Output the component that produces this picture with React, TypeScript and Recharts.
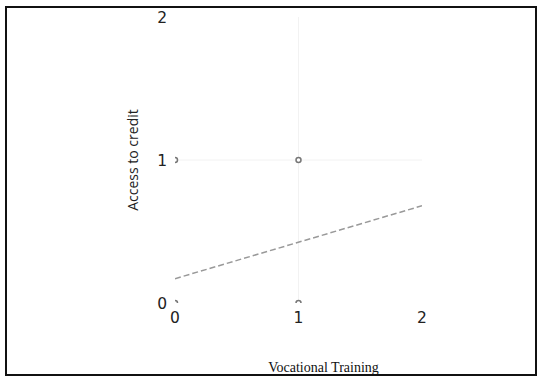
import React from 'react';
import {
  ReferenceLine,
  Scatter,
  ScatterChart,
  XAxis,
  YAxis,
} from 'recharts';

const xTicks = [0, 1, 2];
const yTicks = [0, 1, 2];

const observed = [
  { x: 0, y: 0 },
  { x: 0, y: 1 },
  { x: 1, y: 0 },
  { x: 1, y: 1 },
];

const fitted = [
  { x: 0, y: 0.17 },
  { x: 2, y: 0.68 },
];

const tickStyle = { fontFamily: 'DejaVu Sans', fontSize: 15.5, fill: '#222' };

export default function App() {
  return (
    <div style={{ position: 'absolute', left: 0, top: 0, width: 539, height: 379 }}>
      <div
        style={{
          position: 'absolute',
          left: 5,
          top: 6,
          width: 528,
          height: 366,
          border: '2px solid #111',
        }}
      />
      <ScatterChart
        width={539}
        height={379}
        margin={{ top: 17, right: 117, left: 115, bottom: 46 }}
        style={{ position: 'absolute', left: 0, top: 0 }}
      >
        <ReferenceLine x={1} stroke="#f2f2f2" />
        <ReferenceLine y={1} stroke="#f2f2f2" />
        <XAxis
          type="number"
          dataKey="x"
          domain={[0, 2]}
          ticks={xTicks}
          allowDataOverflow
          axisLine={false}
          tickLine={false}
          height={30}
          tick={tickStyle}
          tickMargin={3}
          label={{
            value: 'Vocational Training',
            position: 'bottom',
            offset: 29,
            dx: 25,
            style: { fontFamily: 'Liberation Serif', fontSize: 14, fill: '#111' },
          }}
        />
        <YAxis
          type="number"
          dataKey="y"
          domain={[0, 2]}
          ticks={yTicks}
          allowDataOverflow
          axisLine={false}
          tickLine={false}
          width={60}
          tick={tickStyle}
          label={{
            value: 'Access to credit',
            angle: -90,
            position: 'insideLeft',
            offset: 18,
            style: {
              fontFamily: 'Open Sans',
              fontSize: 14,
              fill: '#222',
              textAnchor: 'middle',
            },
          }}
        />
        <Scatter
          data={fitted}
          line={{ stroke: '#999999', strokeWidth: 1.5, strokeDasharray: '6 3' }}
          shape={() => <g />}
          isAnimationActive={false}
        />
        <Scatter
          data={observed}
          shape={(p: any) => (
            <circle cx={p.cx} cy={p.cy} r={2.5} fill="#fff" stroke="#777" strokeWidth={1.5} />
          )}
          isAnimationActive={false}
        />
      </ScatterChart>
    </div>
  );
}
